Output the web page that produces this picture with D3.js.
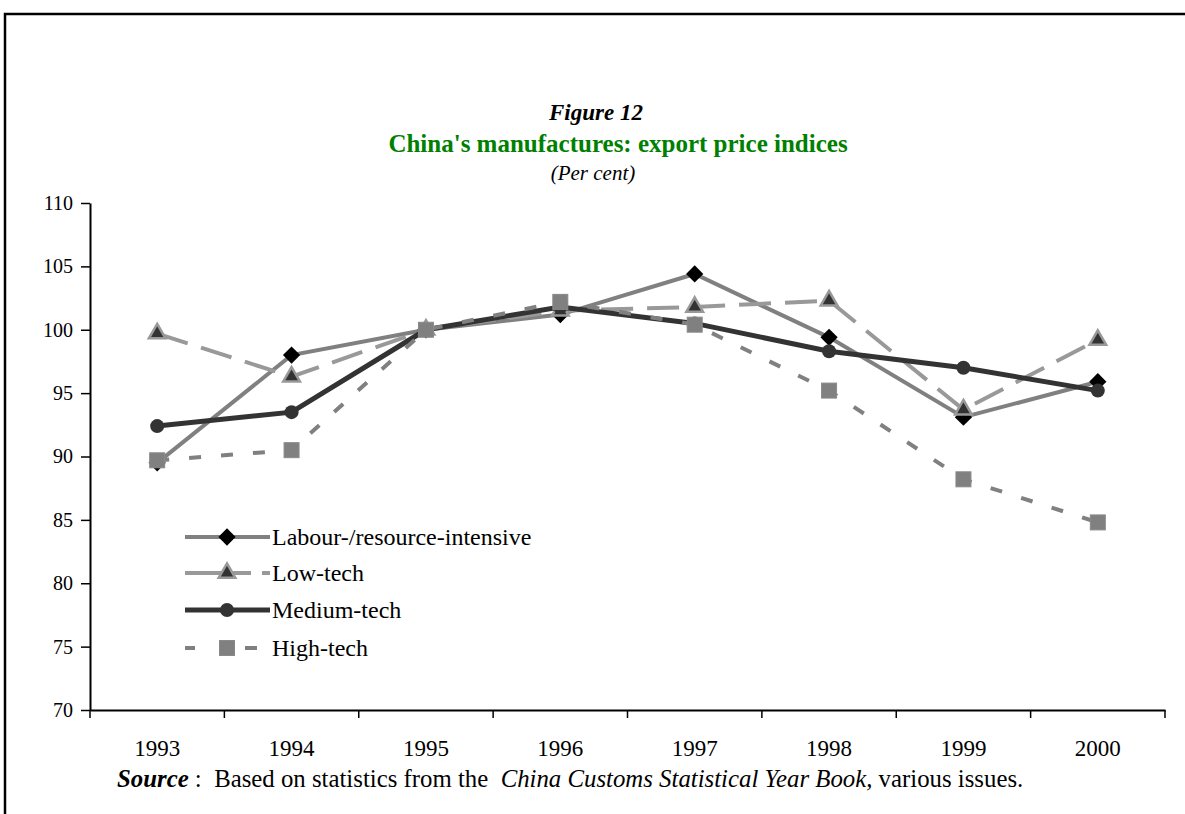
<!DOCTYPE html>
<html>
<head>
<meta charset="utf-8">
<script src="https://cdn.jsdelivr.net/npm/d3@7"></script>
<style>
  body { margin: 0; background: #fff; }
  svg text { font-family: "Liberation Serif", "Times New Roman", serif; }
</style>
</head>
<body>
<div id="chart"></div>
<script>
// Data
const years = ["1993", "1994", "1995", "1996", "1997", "1998", "1999", "2000"];
const labour = [89.5, 98.0, 100.0, 101.2, 104.4, 99.4, 93.1, 95.9];
const lowTech = [99.7, 96.3, 100.0, 101.5, 101.8, 102.3, 93.7, 99.2];
const mediumTech = [92.4, 93.5, 100.0, 101.8, 100.5, 98.3, 97.0, 95.2];
const highTech = [89.7, 90.5, 100.0, 102.2, 100.4, 95.2, 88.2, 84.8];
const yTicks = [70, 75, 80, 85, 90, 95, 100, 105, 110];

const series = [
  { name: "Labour-/resource-intensive", values: labour, stroke: "#808080", width: 4, dash: null, marker: "diamond" },
  { name: "Low-tech", values: lowTech, stroke: "#999999", width: 4, dash: "32,14", marker: "triangle" },
  { name: "Medium-tech", values: mediumTech, stroke: "#333333", width: 5, dash: null, marker: "circle" },
  { name: "High-tech", values: highTech, stroke: "#808080", width: 4, dash: "12,20", marker: "square" }
];

const W = 1185, H = 814;
const margin = { top: 203, right: 20, bottom: 104, left: 90 };
const width = 1165 - margin.left;
const height = 710 - margin.top;

const svg = d3.select("#chart").append("svg")
  .attr("width", W)
  .attr("height", H);

// frame
svg.append("path")
  .attr("d", `M5,${H} L5,14 L${W},14`)
  .attr("fill", "none")
  .attr("stroke", "#000")
  .attr("stroke-width", 2.5);

// titles
svg.append("text").attr("x", 596).attr("y", 120).attr("text-anchor", "middle")
  .style("font-size", "23px").style("font-weight", "bold").style("font-style", "italic")
  .text("Figure 12");
svg.append("text").attr("x", 618).attr("y", 152).attr("text-anchor", "middle")
  .style("font-size", "25px").style("font-weight", "bold").attr("fill", "#008000")
  .text("China's manufactures: export price indices");
svg.append("text").attr("x", 593).attr("y", 180).attr("text-anchor", "middle")
  .style("font-size", "21px").style("font-style", "italic")
  .text("(Per cent)");

const g = svg.append("g").attr("transform", `translate(${margin.left},${margin.top})`);

const x = d3.scaleBand().domain(years).range([0, width]);
const y = d3.scaleLinear().domain([70, 110]).range([height, 0]);

// axes
const yAxis = g.append("g")
  .call(d3.axisLeft(y).tickValues(yTicks).tickSize(9).tickSizeOuter(0).tickPadding(8));
const xAxis = g.append("g")
  .attr("transform", `translate(0,${height})`)
  .call(d3.axisBottom(x).tickSize(0).tickPadding(30));

// boundary ticks on x axis
xAxis.selectAll(".bound")
  .data(d3.range(years.length + 1))
  .enter().append("line")
  .attr("class", "bound")
  .attr("x1", i => i * x.step()).attr("x2", i => i * x.step())
  .attr("y1", 0).attr("y2", 8)
  .attr("stroke", "#000").attr("stroke-width", 1.5);

[yAxis, xAxis].forEach(a => {
  a.select(".domain").attr("stroke", "#000").attr("stroke-width", 2);
  a.selectAll(".tick line").attr("stroke", "#000").attr("stroke-width", 1.5);
  a.selectAll("text").style("font-family", "Liberation Serif, Times New Roman, serif")
    .attr("fill", "#000");
});
yAxis.selectAll("text").style("font-size", "20px");
xAxis.selectAll("text").style("font-size", "23px");

const cx = d => x(d) + x.bandwidth() / 2;

function drawMarker(sel, type, px, py) {
  if (type === "diamond") {
    sel.append("path").attr("d", d3.symbol(d3.symbolDiamond2, 190)())
      .attr("transform", `translate(${px},${py})`)
      .attr("fill", "#000");
  } else if (type === "triangle") {
    sel.append("path").attr("d", d3.symbol(d3.symbolTriangle, 120)())
      .attr("transform", `translate(${px},${py})`)
      .attr("fill", "#333").attr("stroke", "#999").attr("stroke-width", 2.5);
  } else if (type === "circle") {
    sel.append("circle").attr("cx", px).attr("cy", py).attr("r", 7).attr("fill", "#333");
  } else {
    sel.append("rect").attr("x", px - 7.5).attr("y", py - 7.5).attr("width", 15).attr("height", 15)
      .attr("fill", "#808080").attr("stroke", "#8a8a8a").attr("stroke-width", 1);
  }
}

const line = d3.line().x((d, i) => cx(years[i])).y(d => y(d));

series.forEach(s => {
  g.append("path")
    .datum(s.values)
    .attr("d", line)
    .attr("fill", "none")
    .attr("stroke", s.stroke)
    .attr("stroke-width", s.width)
    .attr("stroke-dasharray", s.dash);
  const mg = g.append("g");
  s.values.forEach((v, i) => drawMarker(mg, s.marker, cx(years[i]), y(v)));
});

// legend
const legend = svg.append("g");
const legendY = [537, 573, 610, 648];
const legendDash = { triangle: "66,11,12,200", square: "10,25,12,13,12,200" };
series.forEach((s, i) => {
  const ly = legendY[i];
  legend.append("line")
    .attr("x1", 185).attr("x2", 270).attr("y1", ly).attr("y2", ly)
    .attr("stroke", s.stroke).attr("stroke-width", s.width)
    .attr("stroke-dasharray", legendDash[s.marker] || null);
  drawMarker(legend, s.marker, 227, ly);
  legend.append("text").attr("x", 272).attr("y", ly + 8)
    .style("font-size", "24px").text(s.name);
});

// source note
const src = svg.append("text").attr("x", 117).attr("y", 787)
  .attr("xml:space", "preserve").style("font-size", "24.8px");
src.append("tspan").style("font-weight", "bold").style("font-style", "italic").text("Source");
src.append("tspan").text(" :  Based on statistics from the  ");
src.append("tspan").style("font-style", "italic").text("China Customs Statistical Year Book,");
src.append("tspan").text(" various issues.");
</script>
</body>
</html>
